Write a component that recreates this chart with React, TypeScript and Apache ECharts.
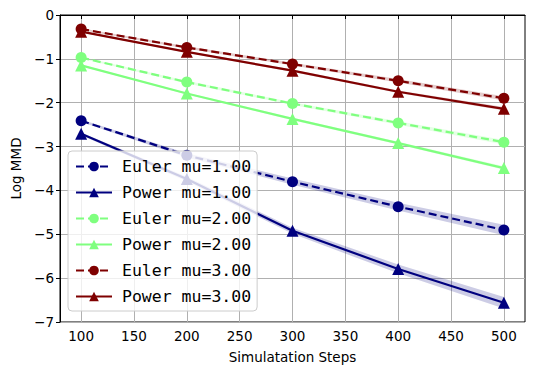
import React, { useEffect, useRef } from "react";
import * as echarts from "echarts";

const steps = [100, 200, 300, 400, 500];
const xTicks = [100, 150, 200, 250, 300, 350, 400, 450, 500];

const eulerMu1 = [-2.41, -3.2, -3.8, -4.37, -4.9];
const powerMu1 = [-2.71, -3.74, -4.92, -5.79, -6.56];
const eulerMu2 = [-0.97, -1.53, -2.02, -2.46, -2.9];
const powerMu2 = [-1.15, -1.79, -2.37, -2.92, -3.49];
const eulerMu3 = [-0.32, -0.74, -1.12, -1.5, -1.9];
const powerMu3 = [-0.38, -0.84, -1.27, -1.75, -2.14];

const eulerMu1Err = [0.03, 0.05, 0.07, 0.09, 0.12];
const powerMu1Err = [0.03, 0.05, 0.07, 0.1, 0.13];
const eulerMu2Err = [0.02, 0.03, 0.03, 0.04, 0.05];
const powerMu2Err = [0.02, 0.02, 0.03, 0.03, 0.04];
const eulerMu3Err = [0.02, 0.03, 0.03, 0.04, 0.05];
const powerMu3Err = [0.02, 0.02, 0.03, 0.03, 0.04];

const NAVY = "#00007f";
const GREEN = "#7fff7f";
const DARKRED = "#7f0000";

function bandData(vals: number[], errs: number[]) {
  return steps.slice(0, -1).map((s, i) => [
    s,
    vals[i] - errs[i],
    vals[i] + errs[i],
    steps[i + 1],
    vals[i + 1] - errs[i + 1],
    vals[i + 1] + errs[i + 1],
  ]);
}

function bandSeries(id: string, vals: number[], errs: number[], fill: string) {
  return {
    type: "custom",
    name: id,
    silent: true,
    z: 1,
    encode: { x: [0, 3], y: [1, 2, 4, 5] },
    data: bandData(vals, errs),
    renderItem: (params: any, api: any) => {
      const a = api.coord([api.value(0), api.value(1)]);
      const b = api.coord([api.value(3), api.value(4)]);
      const c = api.coord([api.value(3), api.value(5)]);
      const d = api.coord([api.value(0), api.value(2)]);
      return {
        type: "polygon",
        shape: { points: [a, b, c, d] },
        style: { fill, stroke: null },
      };
    },
  };
}

function lineSeries(name: string, vals: number[], color: string, dashed: boolean) {
  return {
    type: "line",
    name,
    z: 3,
    data: steps.map((s, i) => [s, vals[i]]),
    symbol: dashed ? "circle" : "triangle",
    symbolSize: dashed ? 11 : 12,
    lineStyle: { color, width: 2.2, type: dashed ? [8, 4] : "solid" },
    itemStyle: { color },
  };
}

const minus = (v: number) => String(v).replace("-", "\u2212");

export default function App() {
  const ref = useRef<HTMLDivElement>(null);
  useEffect(() => {
    if (!ref.current) return;
    const chart = echarts.init(ref.current, undefined, { renderer: "svg" });
    chart.setOption({
      animation: false,
      backgroundColor: "#ffffff",
      textStyle: { fontFamily: "DejaVu Sans" },
      grid: {
        left: 60,
        top: 15,
        right: 9,
        bottom: 54,
        show: true,
        borderColor: "#000",
        borderWidth: 1,
        backgroundColor: "transparent",
      },
      legend: {
        orient: "vertical",
        left: 68,
        top: 151,
        data: ["Euler mu=1.00", "Power mu=1.00", "Euler mu=2.00", "Power mu=2.00", "Euler mu=3.00", "Power mu=3.00"],
        itemWidth: 36,
        itemHeight: 12,
        itemGap: 9,
        padding: [7, 6, 6, 7],
        backgroundColor: "rgba(255,255,255,0.8)",
        borderColor: "#cccccc",
        borderWidth: 1,
        borderRadius: 4,
        textStyle: { fontFamily: "DejaVu Sans Mono", fontSize: 16.5, color: "#000", padding: [0, 0, 0, 5] },
      },
      xAxis: {
        type: "value",
        min: 80,
        max: 520,
        name: "Simulatation Steps",
        nameLocation: "middle",
        nameGap: 28,
        nameTextStyle: { fontSize: 13.5, color: "#000" },
        axisLine: { show: true, lineStyle: { color: "#000", width: 1 } },
        axisTick: { show: true, inside: false, length: 4, customValues: xTicks, lineStyle: { color: "#000" } },
        axisLabel: { customValues: xTicks, fontSize: 13.5, color: "#000", margin: 7 },
        splitLine: { show: true, lineStyle: { color: "#b0b0b0", width: 1 } },
      },
      yAxis: {
        type: "value",
        min: -7,
        max: 0,
        interval: 1,
        name: "Log MMD",
        nameLocation: "middle",
        nameGap: 36,
        nameTextStyle: { fontSize: 13.5, color: "#000" },
        axisLine: { show: true, lineStyle: { color: "#000", width: 1 } },
        axisTick: { show: true, length: 4, lineStyle: { color: "#000" } },
        axisLabel: { fontSize: 13.5, color: "#000", margin: 6, formatter: (v: number) => minus(v) },
        splitLine: { show: true, lineStyle: { color: "#b0b0b0", width: 1 } },
      },
      series: [
        bandSeries("b1", eulerMu1, eulerMu1Err, "rgba(0,0,127,0.2)"),
        bandSeries("b2", powerMu1, powerMu1Err, "rgba(0,0,127,0.2)"),
        bandSeries("b3", eulerMu2, eulerMu2Err, "rgba(127,255,127,0.2)"),
        bandSeries("b4", powerMu2, powerMu2Err, "rgba(127,255,127,0.2)"),
        bandSeries("b5", eulerMu3, eulerMu3Err, "rgba(127,0,0,0.2)"),
        bandSeries("b6", powerMu3, powerMu3Err, "rgba(127,0,0,0.2)"),
        lineSeries("Euler mu=1.00", eulerMu1, NAVY, true),
        lineSeries("Power mu=1.00", powerMu1, NAVY, false),
        lineSeries("Euler mu=2.00", eulerMu2, GREEN, true),
        lineSeries("Power mu=2.00", powerMu2, GREEN, false),
        lineSeries("Euler mu=3.00", eulerMu3, DARKRED, true),
        lineSeries("Power mu=3.00", powerMu3, DARKRED, false),
      ],
    });
    return () => chart.dispose();
  }, []);
  return <div ref={ref} style={{ width: 534, height: 376, margin: -8 }} />;
}
